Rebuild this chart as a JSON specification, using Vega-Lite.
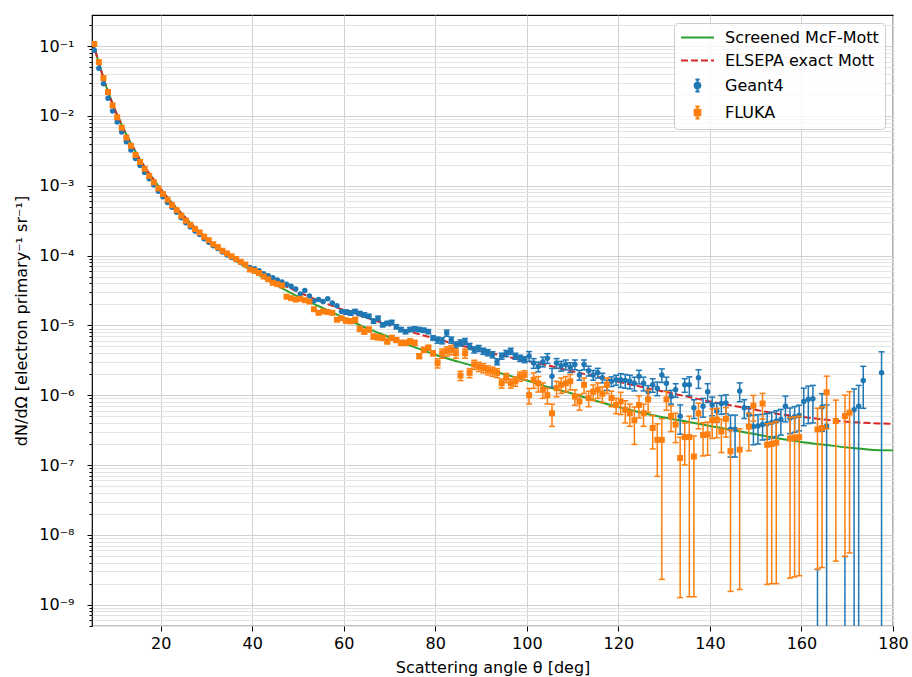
{
  "$schema": "https://vega.github.io/schema/vega-lite/v6.json",
  "width": 801,
  "height": 611,
  "autosize": {"type": "none"},
  "padding": {"left": 92, "top": 15, "right": 19, "bottom": 51},
  "background": "white",
  "config": {
    "font": "DejaVu Sans",
    "view": {"stroke": "black", "strokeWidth": 1.2},
    "axis": {"domain": false, "tickColor": "black", "labelColor": "black", "titleColor": "black", "labelFontSize": 16, "titleFontSize": 16, "titleFontWeight": "normal", "labelFont": "DejaVu Sans", "titleFont": "DejaVu Sans"}
  },
  "datasets": {
    "mcf": [
      {"x":5,"y":1.175e-1},{"x":5.5,"y":9.55e-2},{"x":6,"y":7.41e-2},{"x":6.5,"y":5.75e-2},{"x":7,"y":4.47e-2},{"x":7.5,"y":3.47e-2},{"x":8,"y":2.75e-2},{"x":8.5,"y":2.24e-2},{"x":9,"y":1.82e-2},{"x":9.5,"y":1.48e-2},{"x":10,"y":1.23e-2},{"x":11,"y":8.71e-3},{"x":12,"y":6.31e-3},{"x":13,"y":4.68e-3},{"x":14,"y":3.55e-3},{"x":15,"y":2.69e-3},{"x":16,"y":2.09e-3},{"x":17,"y":1.66e-3},{"x":18,"y":1.35e-3},{"x":19,"y":1.10e-3},{"x":20,"y":8.91e-4},{"x":22,"y":6.17e-4},{"x":24,"y":4.37e-4},{"x":26,"y":3.16e-4},{"x":28,"y":2.34e-4},{"x":30,"y":1.78e-4},{"x":32,"y":1.38e-4},{"x":34,"y":1.10e-4},{"x":36,"y":8.91e-5},{"x":38,"y":7.24e-5},{"x":40,"y":6.03e-5},{"x":42,"y":5.01e-5},{"x":44,"y":4.17e-5},{"x":46,"y":3.55e-5},{"x":48,"y":3.02e-5},{"x":50,"y":2.57e-5},{"x":52,"y":2.24e-5},{"x":54,"y":1.95e-5},{"x":56,"y":1.70e-5},{"x":58,"y":1.48e-5},{"x":60,"y":1.29e-5},{"x":65,"y":9.12e-6},{"x":70,"y":6.76e-6},{"x":75,"y":5.01e-6},{"x":80,"y":3.80e-6},{"x":85,"y":3.02e-6},{"x":90,"y":2.45e-6},{"x":95,"y":2.00e-6},{"x":100,"y":1.62e-6},{"x":105,"y":1.29e-6},{"x":110,"y":1.05e-6},{"x":115,"y":8.32e-7},{"x":120,"y":6.76e-7},{"x":125,"y":5.62e-7},{"x":130,"y":4.79e-7},{"x":135,"y":4.17e-7},{"x":140,"y":3.63e-7},{"x":145,"y":3.16e-7},{"x":150,"y":2.75e-7},{"x":155,"y":2.40e-7},{"x":160,"y":2.14e-7},{"x":165,"y":1.95e-7},{"x":170,"y":1.78e-7},{"x":175,"y":1.66e-7},{"x":180,"y":1.62e-7}
    ],
    "elsepa": [
      {"x":5,"y":1.175e-1},{"x":5.5,"y":9.55e-2},{"x":6,"y":7.41e-2},{"x":6.5,"y":5.75e-2},{"x":7,"y":4.47e-2},{"x":7.5,"y":3.47e-2},{"x":8,"y":2.75e-2},{"x":8.5,"y":2.24e-2},{"x":9,"y":1.82e-2},{"x":9.5,"y":1.48e-2},{"x":10,"y":1.23e-2},{"x":11,"y":8.71e-3},{"x":12,"y":6.31e-3},{"x":13,"y":4.68e-3},{"x":14,"y":3.55e-3},{"x":15,"y":2.69e-3},{"x":16,"y":2.09e-3},{"x":17,"y":1.66e-3},{"x":18,"y":1.35e-3},{"x":19,"y":1.10e-3},{"x":20,"y":8.91e-4},{"x":22,"y":6.17e-4},{"x":24,"y":4.37e-4},{"x":26,"y":3.16e-4},{"x":28,"y":2.34e-4},{"x":30,"y":1.78e-4},{"x":32,"y":1.41e-4},{"x":34,"y":1.12e-4},{"x":36,"y":9.12e-5},{"x":38,"y":7.59e-5},{"x":40,"y":6.31e-5},{"x":45,"y":4.27e-5},{"x":50,"y":3.02e-5},{"x":55,"y":2.19e-5},{"x":60,"y":1.66e-5},{"x":65,"y":1.29e-5},{"x":70,"y":1.00e-5},{"x":75,"y":7.94e-6},{"x":80,"y":6.46e-6},{"x":85,"y":5.25e-6},{"x":90,"y":4.37e-6},{"x":95,"y":3.63e-6},{"x":100,"y":3.09e-6},{"x":105,"y":2.63e-6},{"x":110,"y":2.19e-6},{"x":115,"y":1.86e-6},{"x":120,"y":1.55e-6},{"x":125,"y":1.32e-6},{"x":130,"y":1.12e-6},{"x":135,"y":9.55e-7},{"x":140,"y":8.13e-7},{"x":145,"y":7.08e-7},{"x":150,"y":6.17e-7},{"x":155,"y":5.37e-7},{"x":160,"y":4.90e-7},{"x":165,"y":4.47e-7},{"x":170,"y":4.17e-7},{"x":175,"y":3.98e-7},{"x":180,"y":3.89e-7}
    ],
    "g4": [
      {"x":5.5,"y":8.71e-2},{"x":6.5,"y":4.79e-2},{"x":7.5,"y":2.88e-2},{"x":8.5,"y":1.78e-2},{"x":9.5,"y":1.17e-2},{"x":10.5,"y":8.13e-3},{"x":11.5,"y":5.89e-3},{"x":12.5,"y":4.27e-3},{"x":13.5,"y":3.24e-3},{"x":14.5,"y":2.45e-3},{"x":15.5,"y":1.95e-3},{"x":16.5,"y":1.55e-3},{"x":17.5,"y":1.26e-3},{"x":18.5,"y":1.02e-3},{"x":19.5,"y":8.32e-4},{"x":20.5,"y":6.92e-4},{"x":21.5,"y":5.75e-4},{"x":22.5,"y":4.90e-4},{"x":23.5,"y":4.17e-4},{"x":24.5,"y":3.47e-4},{"x":25.5,"y":2.95e-4},{"x":26.5,"y":2.57e-4},{"x":27.5,"y":2.24e-4},{"x":28.5,"y":2.00e-4},{"x":29.5,"y":1.74e-4},{"x":30.5,"y":1.55e-4},{"x":31.5,"y":1.38e-4},{"x":32.5,"y":1.26e-4},{"x":33.5,"y":1.12e-4},{"x":34.5,"y":1.02e-4},{"x":35.5,"y":9.33e-5},{"x":36.5,"y":8.71e-5},{"x":37.5,"y":7.94e-5},{"x":38.5,"y":7.41e-5},{"x":39.5,"y":6.76e-5},{"x":40.5,"y":6.46e-5},{"x":41.5,"y":6.03e-5},{"x":42.5,"y":5.50e-5},{"x":43.5,"y":5.13e-5},{"x":44.5,"y":4.79e-5},{"x":45.5,"y":4.47e-5},{"x":46.5,"y":4.17e-5},{"x":47.5,"y":3.89e-5},{"x":48.5,"y":3.63e-5},{"x":49.5,"y":3.31e-5},{"x":50.5,"y":2.82e-5},{"x":51.5,"y":3.16e-5},{"x":52.5,"y":2.63e-5},{"x":53.5,"y":2.24e-5},{"x":54.5,"y":2.34e-5},{"x":55.5,"y":2.19e-5},{"x":56.5,"y":2.40e-5},{"x":57.5,"y":2.09e-5},{"x":58.5,"y":1.91e-5},{"x":59.5,"y":1.58e-5},
      {"x":60.5,"y":1.55e-5,"lo":1.44e-5,"hi":1.66e-5},{"x":61.5,"y":1.51e-5,"lo":1.40e-5,"hi":1.62e-5},{"x":62.5,"y":1.58e-5,"lo":1.47e-5,"hi":1.69e-5},{"x":63.5,"y":1.48e-5,"lo":1.38e-5,"hi":1.58e-5},{"x":64.5,"y":1.41e-5,"lo":1.31e-5,"hi":1.51e-5},{"x":65.5,"y":1.35e-5,"lo":1.26e-5,"hi":1.44e-5},{"x":66.5,"y":1.15e-5,"lo":1.07e-5,"hi":1.23e-5},{"x":67.5,"y":1.26e-5,"lo":1.17e-5,"hi":1.35e-5},{"x":68.5,"y":1.02e-5,"lo":9.49e-6,"hi":1.09e-5},{"x":69.5,"y":1.07e-5,"lo":9.95e-6,"hi":1.14e-5},{"x":70.5,"y":1.10e-5,"lo":1.02e-5,"hi":1.18e-5},{"x":71.5,"y":9.55e-6,"lo":8.88e-6,"hi":1.02e-5},{"x":72.5,"y":8.71e-6,"lo":8.10e-6,"hi":9.32e-6},{"x":73.5,"y":8.13e-6,"lo":7.56e-6,"hi":8.70e-6},{"x":74.5,"y":8.71e-6,"lo":8.10e-6,"hi":9.32e-6},{"x":75.5,"y":8.91e-6,"lo":8.29e-6,"hi":9.53e-6},{"x":76.5,"y":8.71e-6,"lo":8.10e-6,"hi":9.32e-6},{"x":77.5,"y":8.51e-6,"lo":7.91e-6,"hi":9.11e-6},{"x":78.5,"y":8.13e-6,"lo":7.56e-6,"hi":8.70e-6},{"x":79.5,"y":6.61e-6,"lo":6.15e-6,"hi":7.07e-6},
      {"x":80.5,"y":6.17e-6,"lo":5.55e-6,"hi":6.79e-6},{"x":81.5,"y":6.03e-6,"lo":5.43e-6,"hi":6.63e-6},{"x":82.5,"y":7.76e-6,"lo":6.98e-6,"hi":8.54e-6},{"x":83.5,"y":6.17e-6,"lo":5.55e-6,"hi":6.79e-6},{"x":84.5,"y":5.25e-6,"lo":4.73e-6,"hi":5.78e-6},{"x":85.5,"y":5.62e-6,"lo":5.06e-6,"hi":6.18e-6},{"x":86.5,"y":5.89e-6,"lo":5.30e-6,"hi":6.48e-6},{"x":87.5,"y":5.01e-6,"lo":4.51e-6,"hi":5.51e-6},{"x":88.5,"y":4.47e-6,"lo":4.02e-6,"hi":4.92e-6},{"x":89.5,"y":4.68e-6,"lo":4.21e-6,"hi":5.15e-6},{"x":90.5,"y":4.27e-6,"lo":3.84e-6,"hi":4.70e-6},{"x":91.5,"y":4.07e-6,"lo":3.66e-6,"hi":4.48e-6},{"x":92.5,"y":3.80e-6,"lo":3.42e-6,"hi":4.18e-6},{"x":93.5,"y":3.02e-6,"lo":2.72e-6,"hi":3.32e-6},{"x":94.5,"y":3.63e-6,"lo":3.27e-6,"hi":3.99e-6},{"x":95.5,"y":3.98e-6,"lo":3.58e-6,"hi":4.38e-6},{"x":96.5,"y":4.27e-6,"lo":3.84e-6,"hi":4.70e-6},{"x":97.5,"y":3.63e-6,"lo":3.27e-6,"hi":3.99e-6},{"x":98.5,"y":3.39e-6,"lo":3.05e-6,"hi":3.73e-6},{"x":99.5,"y":3.24e-6,"lo":2.92e-6,"hi":3.56e-6},
      {"x":100.5,"y":3.63e-6,"lo":3.05e-6,"hi":4.21e-6},{"x":101.5,"y":2.88e-6,"lo":2.42e-6,"hi":3.34e-6},{"x":102.5,"y":2.57e-6,"lo":2.16e-6,"hi":2.98e-6},{"x":103.5,"y":3.02e-6,"lo":2.54e-6,"hi":3.50e-6},{"x":104.5,"y":3.39e-6,"lo":2.85e-6,"hi":3.93e-6},{"x":105.5,"y":1.86e-6,"lo":1.30e-6,"hi":2.42e-6},{"x":106.5,"y":2.88e-6,"lo":2.42e-6,"hi":3.34e-6},{"x":107.5,"y":2.63e-6,"lo":2.21e-6,"hi":3.05e-6},{"x":108.5,"y":2.75e-6,"lo":2.31e-6,"hi":3.19e-6},{"x":109.5,"y":2.51e-6,"lo":2.11e-6,"hi":2.91e-6},{"x":110.5,"y":2.75e-6,"lo":2.31e-6,"hi":3.19e-6},{"x":111.5,"y":1.95e-6,"lo":1.64e-6,"hi":2.26e-6},{"x":112.5,"y":2.75e-6,"lo":2.31e-6,"hi":3.19e-6},{"x":113.5,"y":2.24e-6,"lo":1.88e-6,"hi":2.60e-6},{"x":114.5,"y":1.95e-6,"lo":1.64e-6,"hi":2.26e-6},{"x":115.5,"y":2.09e-6,"lo":1.76e-6,"hi":2.42e-6},{"x":116.5,"y":1.78e-6,"lo":1.50e-6,"hi":2.06e-6},{"x":117.5,"y":1.41e-6,"lo":1.18e-6,"hi":1.64e-6},{"x":118.5,"y":1.58e-6,"lo":1.33e-6,"hi":1.83e-6},{"x":119.5,"y":1.66e-6,"lo":1.39e-6,"hi":1.93e-6},
      {"x":120.5,"y":1.66e-6,"lo":1.29e-6,"hi":2.03e-6},{"x":121.5,"y":1.62e-6,"lo":1.26e-6,"hi":1.98e-6},{"x":122.5,"y":1.58e-6,"lo":1.23e-6,"hi":1.93e-6},{"x":123.5,"y":1.48e-6,"lo":1.15e-6,"hi":1.81e-6},{"x":124.5,"y":1.86e-6,"lo":1.45e-6,"hi":2.27e-6},{"x":125.5,"y":1.48e-6,"lo":1.15e-6,"hi":1.81e-6},{"x":126.5,"y":1.12e-6,"lo":8.74e-7,"hi":1.37e-6},{"x":127.5,"y":1.41e-6,"lo":1.10e-6,"hi":1.72e-6},{"x":128.5,"y":1.26e-6,"lo":9.83e-7,"hi":1.54e-6},{"x":129.5,"y":1.95e-6,"lo":1.52e-6,"hi":2.38e-6},{"x":130.5,"y":1.48e-6,"lo":1.15e-6,"hi":1.81e-6},{"x":131.5,"y":9.55e-7,"lo":7.45e-7,"hi":1.17e-6},{"x":132.5,"y":1.20e-6,"lo":9.36e-7,"hi":1.46e-6},{"x":133.5,"y":5.01e-7,"lo":2.76e-7,"hi":7.26e-7},{"x":134.5,"y":1.41e-6,"lo":1.10e-6,"hi":1.72e-6},
      {"x":135.5,"y":1.41e-6,"lo":9.87e-7,"hi":1.83e-6},{"x":136.5,"y":6.61e-7,"lo":4.63e-7,"hi":8.59e-7},{"x":137.5,"y":1.78e-6,"lo":1.25e-6,"hi":2.31e-6},{"x":138.5,"y":6.92e-7,"lo":4.84e-7,"hi":9.00e-7},{"x":139.5,"y":1.12e-6,"lo":7.84e-7,"hi":1.46e-6},{"x":140.5,"y":7.24e-7,"lo":5.07e-7,"hi":9.41e-7},{"x":141.5,"y":5.89e-7,"lo":4.12e-7,"hi":7.66e-7},{"x":142.5,"y":7.59e-7,"lo":5.31e-7,"hi":9.87e-7},{"x":143.5,"y":7.76e-7,"lo":5.43e-7,"hi":1.01e-6},{"x":144.5,"y":3.24e-7,"lo":1.30e-7,"hi":5.18e-7},{"x":145.5,"y":3.24e-7,"lo":1.30e-7,"hi":5.18e-7},{"x":146.5,"y":1.15e-6,"lo":8.05e-7,"hi":1.50e-6},{"x":147.5,"y":6.61e-7,"lo":4.63e-7,"hi":8.59e-7},{"x":148.5,"y":5.25e-7,"lo":3.68e-7,"hi":6.83e-7},{"x":149.5,"y":3.55e-7,"lo":1.95e-7,"hi":5.15e-7},{"x":150.5,"y":3.63e-7,"lo":2.00e-7,"hi":5.26e-7},{"x":151.5,"y":3.80e-7,"lo":2.28e-7,"hi":5.32e-7},{"x":152.5,"y":3.89e-7,"lo":2.33e-7,"hi":5.45e-7},{"x":153.5,"y":4.07e-7,"lo":2.44e-7,"hi":5.70e-7},{"x":154.5,"y":4.27e-7,"lo":2.56e-7,"hi":5.98e-7},{"x":155.5,"y":4.47e-7,"lo":2.68e-7,"hi":6.26e-7},{"x":156.5,"y":6.92e-7,"lo":4.15e-7,"hi":9.69e-7},{"x":157.5,"y":4.68e-7,"lo":2.81e-7,"hi":6.55e-7},{"x":158.5,"y":4.90e-7,"lo":2.94e-7,"hi":6.86e-7},{"x":159.5,"y":5.13e-7,"lo":3.08e-7,"hi":7.18e-7},
      {"x":160.5,"y":8.13e-7,"lo":3.66e-7,"hi":1.26e-6},{"x":161.5,"y":8.71e-7,"lo":3.92e-7,"hi":1.35e-6},{"x":162.5,"y":8.91e-7,"lo":4.01e-7,"hi":1.38e-6},{"x":163.5,"y":null,"lo":1e-12,"hi":3.2e-9},{"x":164.5,"y":6.76e-7,"lo":3.04e-7,"hi":1.05e-6},{"x":165.5,"y":3.63e-7,"lo":1e-12,"hi":7.26e-7},{"x":169.5,"y":null,"lo":1e-12,"hi":4.9e-9},{"x":171.5,"y":6.17e-7,"lo":1e-12,"hi":1.23e-6},{"x":172.5,"y":6.92e-7,"lo":1e-12,"hi":1.38e-6},{"x":173.5,"y":1.62e-6,"lo":6.48e-7,"hi":2.59e-6},{"x":177.5,"y":2.09e-6,"lo":1e-12,"hi":4.18e-6}
    ],
    "fluka": [
      {"x":5.5,"y":1.07e-1},{"x":6.5,"y":5.89e-2},{"x":7.5,"y":3.47e-2},{"x":8.5,"y":2.19e-2},{"x":9.5,"y":1.41e-2},{"x":10.5,"y":9.55e-3},{"x":11.5,"y":6.76e-3},{"x":12.5,"y":4.90e-3},{"x":13.5,"y":3.72e-3},{"x":14.5,"y":2.75e-3},{"x":15.5,"y":2.19e-3},{"x":16.5,"y":1.74e-3},{"x":17.5,"y":1.38e-3},{"x":18.5,"y":1.12e-3},{"x":19.5,"y":9.12e-4},{"x":20.5,"y":7.59e-4},{"x":21.5,"y":6.31e-4},{"x":22.5,"y":5.25e-4},{"x":23.5,"y":4.47e-4},{"x":24.5,"y":3.72e-4},{"x":25.5,"y":3.16e-4},{"x":26.5,"y":2.75e-4},{"x":27.5,"y":2.40e-4},{"x":28.5,"y":2.14e-4},{"x":29.5,"y":1.86e-4},{"x":30.5,"y":1.66e-4},{"x":31.5,"y":1.45e-4},{"x":32.5,"y":1.32e-4},{"x":33.5,"y":1.17e-4},{"x":34.5,"y":1.07e-4},{"x":35.5,"y":9.77e-5},{"x":36.5,"y":8.91e-5},{"x":37.5,"y":8.13e-5},{"x":38.5,"y":7.41e-5},{"x":39.5,"y":6.31e-5},{"x":40.5,"y":6.03e-5},{"x":41.5,"y":5.62e-5},{"x":42.5,"y":5.01e-5},{"x":43.5,"y":4.57e-5},{"x":44.5,"y":4.07e-5},{"x":45.5,"y":3.89e-5},{"x":46.5,"y":3.72e-5},{"x":47.5,"y":2.57e-5},{"x":48.5,"y":2.45e-5},{"x":49.5,"y":2.34e-5},{"x":50.5,"y":2.40e-5},{"x":51.5,"y":2.29e-5},{"x":52.5,"y":2.19e-5},{"x":53.5,"y":1.70e-5},{"x":54.5,"y":1.51e-5},{"x":55.5,"y":1.58e-5},{"x":56.5,"y":1.55e-5},{"x":57.5,"y":1.51e-5},{"x":58.5,"y":1.20e-5},{"x":59.5,"y":1.26e-5},
      {"x":60.5,"y":1.17e-5,"lo":1.08e-5,"hi":1.26e-5},{"x":61.5,"y":1.15e-5,"lo":1.06e-5,"hi":1.24e-5},{"x":62.5,"y":1.20e-5,"lo":1.10e-5,"hi":1.30e-5},{"x":63.5,"y":8.91e-6,"lo":8.20e-6,"hi":9.62e-6},{"x":64.5,"y":8.13e-6,"lo":7.48e-6,"hi":8.78e-6},{"x":65.5,"y":8.71e-6,"lo":8.01e-6,"hi":9.41e-6},{"x":66.5,"y":6.92e-6,"lo":6.37e-6,"hi":7.47e-6},{"x":67.5,"y":6.76e-6,"lo":6.22e-6,"hi":7.30e-6},{"x":68.5,"y":6.61e-6,"lo":6.08e-6,"hi":7.14e-6},{"x":69.5,"y":5.89e-6,"lo":5.42e-6,"hi":6.36e-6},{"x":70.5,"y":6.61e-6,"lo":6.08e-6,"hi":7.14e-6},{"x":71.5,"y":6.17e-6,"lo":5.68e-6,"hi":6.66e-6},{"x":72.5,"y":5.62e-6,"lo":5.17e-6,"hi":6.07e-6},{"x":73.5,"y":5.62e-6,"lo":5.17e-6,"hi":6.07e-6},{"x":74.5,"y":5.89e-6,"lo":5.42e-6,"hi":6.36e-6},{"x":75.5,"y":5.62e-6,"lo":5.17e-6,"hi":6.07e-6},{"x":76.5,"y":3.63e-6,"lo":3.34e-6,"hi":3.92e-6},{"x":77.5,"y":4.47e-6,"lo":4.11e-6,"hi":4.83e-6},{"x":78.5,"y":4.79e-6,"lo":4.41e-6,"hi":5.17e-6},{"x":79.5,"y":3.98e-6,"lo":3.66e-6,"hi":4.30e-6},
      {"x":80.5,"y":2.88e-6,"lo":2.45e-6,"hi":3.31e-6},{"x":81.5,"y":3.98e-6,"lo":3.38e-6,"hi":4.58e-6},{"x":82.5,"y":4.27e-6,"lo":3.63e-6,"hi":4.91e-6},{"x":83.5,"y":4.47e-6,"lo":3.80e-6,"hi":5.14e-6},{"x":84.5,"y":3.98e-6,"lo":3.38e-6,"hi":4.58e-6},{"x":85.5,"y":1.91e-6,"lo":1.62e-6,"hi":2.20e-6},{"x":86.5,"y":3.98e-6,"lo":3.38e-6,"hi":4.58e-6},{"x":87.5,"y":2.09e-6,"lo":1.78e-6,"hi":2.40e-6},{"x":88.5,"y":2.75e-6,"lo":2.34e-6,"hi":3.16e-6},{"x":89.5,"y":2.57e-6,"lo":2.18e-6,"hi":2.96e-6},{"x":90.5,"y":2.45e-6,"lo":2.08e-6,"hi":2.82e-6},{"x":91.5,"y":2.29e-6,"lo":1.95e-6,"hi":2.63e-6},{"x":92.5,"y":2.19e-6,"lo":1.86e-6,"hi":2.52e-6},{"x":93.5,"y":2.09e-6,"lo":1.78e-6,"hi":2.40e-6},{"x":94.5,"y":1.48e-6,"lo":1.26e-6,"hi":1.70e-6},{"x":95.5,"y":1.78e-6,"lo":1.51e-6,"hi":2.05e-6},{"x":96.5,"y":1.48e-6,"lo":1.26e-6,"hi":1.70e-6},{"x":97.5,"y":1.58e-6,"lo":1.34e-6,"hi":1.82e-6},{"x":98.5,"y":1.86e-6,"lo":1.58e-6,"hi":2.14e-6},{"x":99.5,"y":1.95e-6,"lo":1.66e-6,"hi":2.24e-6},
      {"x":100.5,"y":1.00e-6,"lo":7.50e-7,"hi":1.25e-6},{"x":101.5,"y":1.66e-6,"lo":1.25e-6,"hi":2.08e-6},{"x":102.5,"y":1.48e-6,"lo":1.11e-6,"hi":1.85e-6},{"x":103.5,"y":1.20e-6,"lo":9.00e-7,"hi":1.50e-6},{"x":104.5,"y":1.00e-6,"lo":7.50e-7,"hi":1.25e-6},{"x":105.5,"y":5.50e-7,"lo":3.58e-7,"hi":7.43e-7},{"x":106.5,"y":1.26e-6,"lo":9.45e-7,"hi":1.58e-6},{"x":107.5,"y":1.41e-6,"lo":1.06e-6,"hi":1.76e-6},{"x":108.5,"y":1.48e-6,"lo":1.11e-6,"hi":1.85e-6},{"x":109.5,"y":1.58e-6,"lo":1.19e-6,"hi":1.98e-6},{"x":110.5,"y":9.55e-7,"lo":7.16e-7,"hi":1.19e-6},{"x":111.5,"y":8.13e-7,"lo":6.10e-7,"hi":1.02e-6},{"x":112.5,"y":1.41e-6,"lo":1.06e-6,"hi":1.76e-6},{"x":113.5,"y":9.12e-7,"lo":6.84e-7,"hi":1.14e-6},{"x":114.5,"y":1.12e-6,"lo":8.40e-7,"hi":1.40e-6},{"x":115.5,"y":1.20e-6,"lo":9.00e-7,"hi":1.50e-6},{"x":116.5,"y":1.05e-6,"lo":7.88e-7,"hi":1.31e-6},{"x":117.5,"y":1.41e-6,"lo":1.06e-6,"hi":1.76e-6},{"x":118.5,"y":9.12e-7,"lo":6.84e-7,"hi":1.14e-6},{"x":119.5,"y":7.24e-7,"lo":5.43e-7,"hi":9.05e-7},
      {"x":120.5,"y":8.13e-7,"lo":5.28e-7,"hi":1.10e-6},{"x":121.5,"y":6.17e-7,"lo":4.01e-7,"hi":8.33e-7},{"x":122.5,"y":5.50e-7,"lo":3.58e-7,"hi":7.43e-7},{"x":123.5,"y":4.37e-7,"lo":1.97e-7,"hi":6.77e-7},{"x":124.5,"y":7.24e-7,"lo":4.71e-7,"hi":9.77e-7},{"x":125.5,"y":5.50e-7,"lo":3.58e-7,"hi":7.43e-7},{"x":126.5,"y":8.71e-7,"lo":5.66e-7,"hi":1.18e-6},{"x":127.5,"y":3.39e-7,"lo":1.70e-7,"hi":5.09e-7},{"x":128.5,"y":2.29e-7,"lo":6.87e-8,"hi":3.89e-7},{"x":129.5,"y":2.29e-7,"lo":2.3e-9,"hi":4.6e-7},{"x":130.5,"y":8.71e-7,"lo":6.10e-7,"hi":1.13e-6},{"x":131.5,"y":5.01e-7,"lo":3.01e-7,"hi":7.01e-7},{"x":132.5,"y":3.80e-7,"lo":2.09e-7,"hi":5.51e-7},{"x":133.5,"y":1.26e-7,"lo":1.26e-9,"hi":2.5e-7},{"x":134.5,"y":2.51e-7,"lo":1.0e-7,"hi":4.0e-7},{"x":135.5,"y":2.51e-7,"lo":1.3e-9,"hi":5.0e-7},{"x":136.5,"y":1.32e-7,"lo":1.3e-9,"hi":2.6e-7},{"x":137.5,"y":5.50e-7,"lo":3.30e-7,"hi":7.70e-7},{"x":138.5,"y":2.69e-7,"lo":1.35e-7,"hi":4.04e-7},{"x":139.5,"y":2.75e-7,"lo":1.38e-7,"hi":4.13e-7},{"x":140.5,"y":4.37e-7,"lo":2.40e-7,"hi":6.34e-7},{"x":141.5,"y":4.47e-7,"lo":2.46e-7,"hi":6.48e-7},{"x":142.5,"y":3.02e-7,"lo":1.51e-7,"hi":4.53e-7},{"x":143.5,"y":4.57e-7,"lo":2.51e-7,"hi":6.63e-7},{"x":144.5,"y":1.58e-7,"lo":1.55e-9,"hi":3.15e-7},{"x":146.5,"y":1.66e-7,"lo":1.65e-9,"hi":3.3e-7},{"x":148.5,"y":3.55e-7,"lo":1.60e-7,"hi":5.50e-7},{"x":149.5,"y":7.08e-7,"lo":4.25e-7,"hi":9.91e-7},{"x":151.5,"y":7.59e-7,"lo":4.55e-7,"hi":1.06e-6},{"x":152.5,"y":1.95e-7,"lo":1.95e-9,"hi":3.9e-7},{"x":153.5,"y":2.00e-7,"lo":2.0e-9,"hi":4.0e-7},{"x":154.5,"y":2.09e-7,"lo":2.0e-9,"hi":4.2e-7},{"x":157.5,"y":2.40e-7,"lo":2.4e-9,"hi":4.8e-7},{"x":158.5,"y":2.45e-7,"lo":2.5e-9,"hi":4.9e-7},{"x":159.5,"y":2.51e-7,"lo":2.6e-9,"hi":5.0e-7},{"x":163.5,"y":3.24e-7,"lo":3.2e-9,"hi":6.5e-7},{"x":164.5,"y":3.39e-7,"lo":3.4e-9,"hi":6.8e-7},{"x":165.5,"y":1.10e-6,"lo":3.3e-7,"hi":1.87e-6},{"x":167.5,"y":4.27e-7,"lo":4.2e-9,"hi":8.5e-7},{"x":169.5,"y":5.01e-7,"lo":4.9e-9,"hi":1.0e-6},{"x":170.5,"y":5.62e-7,"lo":5.5e-9,"hi":1.12e-6}
    ]
  },
  "encoding": {
    "x": {
      "field": "x", "type": "quantitative",
      "scale": {"domain": [5, 180], "nice": false, "zero": false},
      "axis": {"values": [20, 40, 60, 80, 100, 120, 140, 160, 180], "title": "Scattering angle θ [deg]", "grid": true, "gridColor": "#d0d0d0", "gridWidth": 1, "tickSize": 5, "tickWidth": 1, "labelPadding": 4, "titlePadding": 8, "labelFlush": false, "labelOverlap": false}
    }
  },
  "layer": [
    {
      "data": {"name": "mcf"},
      "mark": {"type": "line", "strokeWidth": 2, "interpolate": "monotone", "clip": true},
      "encoding": {
        "y": {
          "field": "y", "type": "quantitative",
          "scale": {"type": "log", "domain": [4.95e-10, 0.278], "nice": false},
          "axis": {
            "title": "dN/dΩ [electron primary⁻¹ sr⁻¹]",
            "values": [5e-10, 6e-10, 7e-10, 8e-10, 9e-10, 1e-9, 2e-9, 3e-9, 4e-9, 5e-9, 6e-9, 7e-9, 8e-9, 9e-9, 1e-8, 2e-8, 3e-8, 4e-8, 5e-8, 6e-8, 7e-8, 8e-8, 9e-8, 1e-7, 2e-7, 3e-7, 4e-7, 5e-7, 6e-7, 7e-7, 8e-7, 9e-7, 1e-6, 2e-6, 3e-6, 4e-6, 5e-6, 6e-6, 7e-6, 8e-6, 9e-6, 1e-5, 2e-5, 3e-5, 4e-5, 5e-5, 6e-5, 7e-5, 8e-5, 9e-5, 1e-4, 2e-4, 3e-4, 4e-4, 5e-4, 6e-4, 7e-4, 8e-4, 9e-4, 1e-3, 2e-3, 3e-3, 4e-3, 5e-3, 6e-3, 7e-3, 8e-3, 9e-3, 1e-2, 2e-2, 3e-2, 4e-2, 5e-2, 6e-2, 7e-2, 8e-2, 9e-2, 1e-1, 2e-1],
            "labelExpr": "abs(log(datum.value)/LN10 - round(log(datum.value)/LN10)) < 1e-6 ? '10⁻' + substring('⁰¹²³⁴⁵⁶⁷⁸⁹', -round(log(datum.value)/LN10), -round(log(datum.value)/LN10) + 1) : ''",
            "labelOverlap": false,
            "labelPadding": 13,
            "titlePadding": 9,
            "grid": true,
            "gridWidth": 1,
            "gridColor": {"condition": {"test": "abs(log(datum.value)/LN10 - round(log(datum.value)/LN10)) < 1e-6", "value": "#d0d0d0"}, "value": "#e4e4e4"},
            "tickSize": {"condition": {"test": "abs(log(datum.value)/LN10 - round(log(datum.value)/LN10)) < 1e-6", "value": 5}, "value": 3},
            "tickWidth": 1
          }
        },
        "color": {
          "datum": "Screened McF-Mott", "type": "nominal",
          "scale": {"domain": ["Screened McF-Mott", "ELSEPA exact Mott", "Geant4", "FLUKA"], "range": ["#2ca02c", "#d62728", "#1f77b4", "#ff7f0e"]},
          "legend": {
            "title": null, "orient": "top-right", "offset": 8, "padding": 6, "rowPadding": 6,
            "labelFontSize": 16, "labelFont": "DejaVu Sans", "labelColor": "black", "labelOffset": 19,
            "symbolSize": 225, "symbolStrokeWidth": 2, "symbolOffset": 9,
            "fillColor": "rgba(255,255,255,0.8)", "strokeColor": "#cccccc", "cornerRadius": 4,
            "encode": {
              "symbols": {
                "update": {
                  "shape": {"signal": "datum.value === 'Geant4' ? 'M0,-0.8L0,0.8M-0.28,-0.8L0.28,-0.8M-0.28,0.8L0.28,0.8M0.4,0L0.283,0.283L0,0.4L-0.283,0.283L-0.4,0L-0.283,-0.283L0,-0.4L0.283,-0.283Z' : (datum.value === 'FLUKA' ? 'M0,-0.8L0,0.8M-0.28,-0.8L0.28,-0.8M-0.28,0.8L0.28,0.8M-0.38,-0.38L0.38,-0.38L0.38,0.38L-0.38,0.38Z' : 'M-2.2,0L2.2,0')"},
                  "strokeDash": {"signal": "datum.value === 'ELSEPA exact Mott' ? [7,3] : [1,0]"},
                  "fill": {"scale": "color", "field": "value"},
                  "stroke": {"scale": "color", "field": "value"},
                  "strokeWidth": {"value": 2},
                  "fillOpacity": {"value": 1},
                  "opacity": {"value": 1}
                }
              }
            }
          }
        }
      }
    },
    {
      "data": {"name": "elsepa"},
      "mark": {"type": "line", "strokeWidth": 2, "strokeDash": [7, 3], "interpolate": "monotone", "clip": true},
      "encoding": {
        "y": {"field": "y", "type": "quantitative", "scale": {"type": "log", "domain": [4.95e-10, 0.278], "nice": false}},
        "color": {"datum": "ELSEPA exact Mott", "type": "nominal"}
      }
    },
    {
      "data": {"name": "g4"},
      "transform": [{"filter": "isValid(datum.lo)"}],
      "mark": {"type": "rule", "color": "#1f77b4", "strokeWidth": 1.5, "clip": true},
      "encoding": {
        "y": {"field": "lo", "type": "quantitative", "scale": {"type": "log", "domain": [4.95e-10, 0.278], "nice": false}},
        "y2": {"field": "hi"}
      }
    },
    {
      "data": {"name": "g4"},
      "transform": [{"filter": "isValid(datum.lo)"}],
      "mark": {"type": "tick", "orient": "horizontal", "color": "#1f77b4", "size": 6, "thickness": 1.5, "opacity": 1, "clip": true},
      "encoding": {
        "y": {"field": "lo", "type": "quantitative", "scale": {"type": "log", "domain": [4.95e-10, 0.278], "nice": false}}
      }
    },
    {
      "data": {"name": "g4"},
      "transform": [{"filter": "isValid(datum.lo)"}],
      "mark": {"type": "tick", "orient": "horizontal", "color": "#1f77b4", "size": 6, "thickness": 1.5, "opacity": 1, "clip": true},
      "encoding": {
        "y": {"field": "hi", "type": "quantitative", "scale": {"type": "log", "domain": [4.95e-10, 0.278], "nice": false}}
      }
    },
    {
      "data": {"name": "g4"},
      "transform": [{"filter": "isValid(datum.y)"}],
      "mark": {"type": "point", "shape": "circle", "filled": true, "size": 30, "opacity": 1, "strokeWidth": 0, "clip": true},
      "encoding": {
        "y": {"field": "y", "type": "quantitative", "scale": {"type": "log", "domain": [4.95e-10, 0.278], "nice": false}},
        "color": {"datum": "Geant4", "type": "nominal"}
      }
    },
    {
      "data": {"name": "fluka"},
      "transform": [{"filter": "isValid(datum.lo)"}],
      "mark": {"type": "rule", "color": "#ff7f0e", "strokeWidth": 1.5, "clip": true},
      "encoding": {
        "y": {"field": "lo", "type": "quantitative", "scale": {"type": "log", "domain": [4.95e-10, 0.278], "nice": false}},
        "y2": {"field": "hi"}
      }
    },
    {
      "data": {"name": "fluka"},
      "transform": [{"filter": "isValid(datum.lo)"}],
      "mark": {"type": "tick", "orient": "horizontal", "color": "#ff7f0e", "size": 6, "thickness": 1.5, "opacity": 1, "clip": true},
      "encoding": {
        "y": {"field": "lo", "type": "quantitative", "scale": {"type": "log", "domain": [4.95e-10, 0.278], "nice": false}}
      }
    },
    {
      "data": {"name": "fluka"},
      "transform": [{"filter": "isValid(datum.lo)"}],
      "mark": {"type": "tick", "orient": "horizontal", "color": "#ff7f0e", "size": 6, "thickness": 1.5, "opacity": 1, "clip": true},
      "encoding": {
        "y": {"field": "hi", "type": "quantitative", "scale": {"type": "log", "domain": [4.95e-10, 0.278], "nice": false}}
      }
    },
    {
      "data": {"name": "fluka"},
      "transform": [{"filter": "isValid(datum.y)"}],
      "mark": {"type": "point", "shape": "square", "filled": true, "size": 36, "opacity": 1, "strokeWidth": 0, "clip": true},
      "encoding": {
        "y": {"field": "y", "type": "quantitative", "scale": {"type": "log", "domain": [4.95e-10, 0.278], "nice": false}},
        "color": {"datum": "FLUKA", "type": "nominal"}
      }
    }
  ]
}
